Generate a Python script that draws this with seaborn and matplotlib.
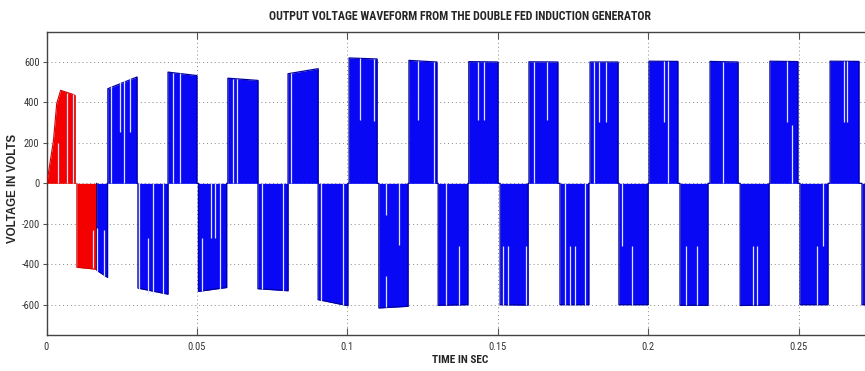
import matplotlib
matplotlib.use("Agg")
import matplotlib.pyplot as plt
from matplotlib import font_manager
import numpy as np
import pandas as pd
import seaborn as sns

# Start-up transient (red trace): envelope vertices of the first two half-cycles
red_pos_t = [0.0001, 0.0023, 0.0034, 0.0047, 0.0088, 0.0095]
red_pos_v = [0, 210, 395, 460, 440, 435]
red_neg_t = [0.0101, 0.0167]
red_neg_v = [-415, -425]

# Blue trace: one entry per half-cycle block (start/end time, start/end peak voltage)
blue_t0 = [0.0167, 0.0204, 0.0304, 0.0404, 0.0505, 0.0603, 0.0703, 0.0803, 0.0903,
           0.1006, 0.1105, 0.1205, 0.1302, 0.1404, 0.1508, 0.1604, 0.1707, 0.1807,
           0.1903, 0.2003, 0.2106, 0.2206, 0.2306, 0.2405, 0.2505, 0.2605, 0.2711]
blue_t1 = [0.0203, 0.0301, 0.0404, 0.0500, 0.0599, 0.0703, 0.0803, 0.0903, 0.1002,
           0.1099, 0.1202, 0.1298, 0.1401, 0.1501, 0.1601, 0.1700, 0.1803, 0.1900,
           0.2000, 0.2099, 0.2199, 0.2299, 0.2402, 0.2498, 0.2598, 0.2701, 0.2800]
blue_v0 = [-430, 468, -518, 550, -534, 520, -521, 542, -575,
           620, -616, 608, -603, 602, -600, 601, -600, 600,
           -600, 604, -603, 603, -604, 604, -600, 604, -600]
blue_v1 = [-465, 526, -548, 533, -515, 509, -531, 567, -605,
           615, -608, 600, -600, 600, -602, 600, -600, 600,
           -600, 603, -603, 600, -602, 602, -600, 603, -600]

# Switching notches inside the blocks: time and the voltage span left uncovered
notch_t = [0.0039, 0.0067, 0.0087, 0.0155, 0.0168, 0.0191, 0.0214, 0.0244, 0.0259,
           0.0278, 0.0309, 0.0336, 0.0353, 0.0386, 0.0420, 0.0444, 0.0516, 0.0546,
           0.0560, 0.0577, 0.0621, 0.0634, 0.0715, 0.0787, 0.0813, 0.0913, 0.0986,
           0.1042, 0.1089, 0.1129, 0.1129, 0.1172, 0.1235, 0.1288, 0.1328, 0.1371,
           0.1433, 0.1454, 0.1518, 0.1534, 0.1594, 0.1621, 0.1663, 0.1724, 0.1740,
           0.1757, 0.1790, 0.1820, 0.1837, 0.1860, 0.1912, 0.1945, 0.2053, 0.2066,
           0.2126, 0.2163, 0.2250, 0.2349, 0.2362, 0.2461, 0.2478, 0.2561, 0.2581,
           0.2652, 0.2661]
notch_lo = [0, 0, 0, -420, -440, -460, 0, 254, 0,
            254, -520, -545, -548, -548, 0, 0, -533, -271,
            -271, -520, 0, 0, -522, -530, 0, -580, -604,
            313, 310, -157, -610, -304, 312, 0, -603, -600,
            312, 312, -600, -600, -602, 0, 315, -600, -600,
            -600, -600, 0, 304, 304, -312, -600, 304, 0,
            -603, -603, 0, -603, -603, 304, 0, -600, -312,
            304, 304]
notch_hi = [200, 445, 440, -230, -220, -230, 480, 501, 510,
            520, 0, -271, 0, 0, 548, 545, -271, 0,
            0, 0, 518, 517, 0, 0, 545, 0, 0,
            620, 615, 0, -460, 0, 607, 600, 0, -312,
            602, 601, -312, -312, -312, 601, 600, 0, -312,
            -312, 0, 600, 600, 600, 0, -312, 604, 604,
            -312, -312, 602, -312, -312, 603, 290, -312, 0,
            604, 604]

x_ticks = [0, 0.05, 0.1, 0.15, 0.2, 0.25]
x_tick_labels = ["0", "0.05", "0.1", "0.15", "0.2", "0.25"]
y_ticks = [-600, -400, -200, 0, 200, 400, 600]
y_tick_labels = ["-600", "-400", "-200", "0", "200", "400", "600"]


def trace(starts, ends, v_start, v_end):
    """Polyline running along zero and up/down around every block."""
    t, v = [], []
    for t0, t1, a0, a1 in zip(starts, ends, v_start, v_end):
        t += [t0, t0, t1, t1]
        v += [0, a0, a1, 0]
    return pd.DataFrame({"t": t, "v": v})


def narrow_font():
    """Pick a condensed sans face if one is installed."""
    have = {f.name for f in font_manager.fontManager.ttflist}
    for name in ("Liberation Sans Narrow", "Roboto Condensed", "Open Sans Condensed",
                 "DejaVu Sans Condensed", "Noto Sans Condensed"):
        if name in have:
            return {"family": [name, "DejaVu Sans"]}
    stretched = [f for f in font_manager.fontManager.ttflist
                 if f.name == "DejaVu Sans" and str(f.stretch) in ("condensed", "semi-condensed")]
    if stretched:
        return {"family": ["DejaVu Sans"], "stretch": "condensed"}
    return {"family": ["Roboto", "DejaVu Sans"], "stretch": "condensed"}


sns.set_style("white")
NARROW = narrow_font()
plt.rcParams["font.family"] = NARROW["family"]
if "stretch" in NARROW:
    plt.rcParams["font.stretch"] = NARROW["stretch"]

fig = plt.figure(figsize=(8.65, 3.71), dpi=100)
ax = fig.add_axes([46.5 / 865, 0.097, (873 - 46.5) / 865, 0.8176])

# red start-up trace
red_pos = pd.DataFrame({"t": [red_pos_t[0]] + red_pos_t + [red_pos_t[-1]],
                        "v": [0] + red_pos_v + [0]})
red_neg = trace([red_neg_t[0]], [red_neg_t[1]], [red_neg_v[0]], [red_neg_v[1]])
for df in (red_pos, red_neg):
    ax.fill_between(df["t"], df["v"], 0, color="#f40000", linewidth=0, zorder=2)
    sns.lineplot(data=df, x="t", y="v", sort=False, estimator=None,
                 color="#d00000", linewidth=0.8, ax=ax, zorder=3)

# blue trace
blue = trace(blue_t0, blue_t1, blue_v0, blue_v1)
ax.fill_between(blue["t"], blue["v"], 0, color="#0808f4", linewidth=0, zorder=2)
sns.lineplot(data=blue, x="t", y="v", sort=False, estimator=None,
             color="#00009e", linewidth=0.9, ax=ax, zorder=3)

# switching notches
ax.vlines(notch_t, notch_lo, notch_hi, colors="#dfe2ff", linewidth=0.9, zorder=4)

ax.set_xlim(0, (873 - 46.5) / 3008)
ax.set_ylim(-750, 750)
ax.set_xticks(x_ticks)
ax.set_xticklabels(x_tick_labels)
ax.set_yticks(y_ticks)
ax.set_yticklabels(y_tick_labels)
ax.tick_params(axis="x", direction="in", length=5, width=0.8, color="#555555",
               labelsize=7.5, labelcolor="#333333", pad=5, top=True, bottom=True)
ax.tick_params(axis="y", direction="out", length=3, width=0.8, color="#555555",
               labelsize=7.5, labelcolor="#333333", pad=2, left=True)

ax.grid(True, linestyle=(0, (1, 3)), color="#8a8a8a", linewidth=0.7)
ax.set_axisbelow(True)
for side in ("top", "left", "bottom"):
    ax.spines[side].set_color("#444444")
    ax.spines[side].set_linewidth(1.0)
ax.spines["right"].set_visible(False)

ax.set_xlabel("TIME IN SEC", fontsize=8.2, fontweight="bold", labelpad=2)
ax.set_ylabel("VOLTAGE IN VOLTS", fontsize=8.3, fontweight="bold",
              family=["Liberation Sans", "DejaVu Sans"], fontstretch="normal")
ax.yaxis.set_label_coords((19 - 46.5) / 826.5, (335 - 188) / 303.3)
fig.text(460 / 865, 1 - 16 / 371,
         "OUTPUT VOLTAGE WAVEFORM FROM THE DOUBLE FED INDUCTION GENERATOR",
         ha="center", va="center", fontsize=8.6, fontweight="bold")

fig.savefig("out.png", dpi=100, facecolor="white")
